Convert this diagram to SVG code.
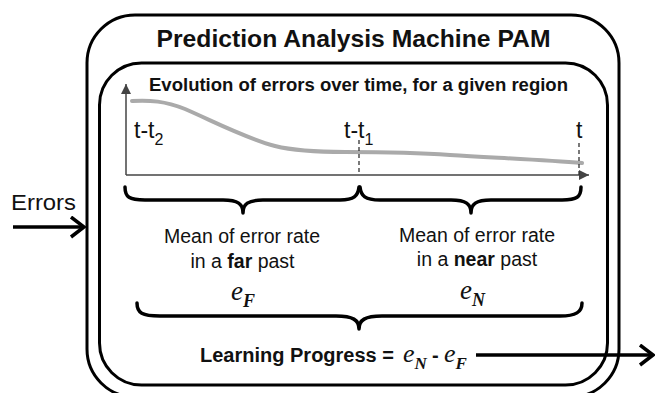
<svg xmlns="http://www.w3.org/2000/svg" width="655" height="393" viewBox="0 0 655 393">
  <style>
    .box { fill: none; stroke: #000; stroke-width: 3; }
    .brace { fill: none; stroke: #000; stroke-width: 3.5; stroke-linecap: round; stroke-linejoin: round; }
    .axis { fill: none; stroke: #444; stroke-width: 1.5; }
    .dash { fill: none; stroke: #333; stroke-width: 1.3; stroke-dasharray: 4 3; }
    .flow { fill: none; stroke: #000; stroke-width: 3.5; }
    .sans { font-family: "Liberation Sans", Arial, sans-serif; font-style: normal; fill: #111; }
    .bold { font-weight: bold; }
    .math { font-family: "Liberation Serif", "Times New Roman", serif; font-style: italic; fill: #111; }
  </style>
  <defs>
    <marker id="chev" markerUnits="userSpaceOnUse" markerWidth="20" markerHeight="24" refX="15" refY="11" orient="auto">
      <polyline points="2,1 15,11 2,21" fill="none" stroke="#000" stroke-width="3.5" stroke-linejoin="miter"/>
    </marker>
    <marker id="tri" markerUnits="userSpaceOnUse" markerWidth="12" markerHeight="10" refX="10" refY="5" orient="auto">
      <path d="M0,0 L10,5 L0,10 Z" fill="#444"/>
    </marker>
  </defs>

  <g id="pam">
    <rect class="box" x="87" y="15" width="532" height="382" rx="48" ry="48"/>
    <text class="sans bold" x="353.5" y="47" font-size="24" text-anchor="middle" textLength="394" lengthAdjust="spacingAndGlyphs">Prediction Analysis Machine PAM</text>
  </g>

  <g id="region">
    <rect class="box" x="99.5" y="63" width="508" height="322" rx="42" ry="42"/>
    <text class="sans bold" x="358.5" y="91" font-size="18.3" text-anchor="middle" textLength="419" lengthAdjust="spacingAndGlyphs">Evolution of errors over time, for a given region</text>
  </g>

  <g id="chart">
    <line class="axis" x1="126" y1="175" x2="126" y2="84" marker-end="url(#tri)"/>
    <line class="axis" x1="126" y1="175" x2="589" y2="175" marker-end="url(#tri)"/>
    <path d="M132,101 C150,100 165,101 185,109 C215,122 245,138 275,146 C295,151 320,152 345,152 C380,152 410,152 450,155 C500,158 545,160 582,163" fill="none" stroke="#aaa" stroke-width="4" stroke-linecap="round"/>
    <line class="dash" x1="359" y1="140" x2="359" y2="175"/>
    <line class="dash" x1="579" y1="143" x2="579" y2="175"/>
    <text class="sans" x="134" y="138" font-size="23">t-t<tspan font-size="16" dy="7">2</tspan></text>
    <text class="sans" x="344" y="138" font-size="23">t-t<tspan font-size="16" dy="7">1</tspan></text>
    <text class="sans" x="576" y="138" font-size="23">t</text>
  </g>

  <g id="far-past">
    <path class="brace" d="M125,187 C125,197 129,200 145,200 L223,200 C238,200 243,204 243,213 C243,204 248,200 263,200 L340,200 C354,200 358,196 359,187"/>
    <text class="sans" x="242" y="243" font-size="19.5" text-anchor="middle">Mean of error rate</text>
    <text class="sans" x="242.5" y="268" font-size="19.5" text-anchor="middle">in a <tspan class="bold">far</tspan> past</text>
    <text class="math" x="231" y="300" font-size="27">e<tspan font-weight="bold" font-size="18" dy="7">F</tspan></text>
  </g>

  <g id="near-past">
    <path class="brace" d="M360,187 C361,196 365,200 380,200 L451,200 C466,200 471,204 471,213 C471,204 476,200 491,200 L562,200 C577,200 581,197 581,187"/>
    <text class="sans" x="477" y="242" font-size="19.5" text-anchor="middle">Mean of error rate</text>
    <text class="sans" x="477" y="266" font-size="19.5" text-anchor="middle">in a <tspan class="bold">near</tspan> past</text>
    <text class="math" x="460" y="299" font-size="27">e<tspan font-weight="bold" font-size="18" dy="7">N</tspan></text>
  </g>

  <g id="learning-progress">
    <path class="brace" d="M137,303 C137,313 142,316 160,316 L336,316 C353,316 359,320 359,329 C359,320 365,316 382,316 L560,316 C576,316 582,312 582,303"/>
    <text y="362"><tspan class="sans bold" x="200" font-size="20">Learning Progress =</tspan><tspan class="math" x="403" font-size="26">e</tspan><tspan class="math" font-weight="bold" font-size="17" dy="7">N</tspan><tspan class="sans bold" x="432" dy="-7" font-size="20">-</tspan><tspan class="math" x="444" font-size="26">e</tspan><tspan class="math" font-weight="bold" font-size="17" dy="7">F</tspan></text>
  </g>

  <g id="errors-input">
    <text class="sans" x="11" y="210" font-size="22" textLength="65" lengthAdjust="spacingAndGlyphs">Errors</text>
  </g>

  <g id="connectors">
    <line class="flow" x1="476" y1="355" x2="653" y2="355" marker-end="url(#chev)"/>
    <line class="flow" x1="13" y1="227" x2="84" y2="227" marker-end="url(#chev)"/>
  </g>
</svg>
